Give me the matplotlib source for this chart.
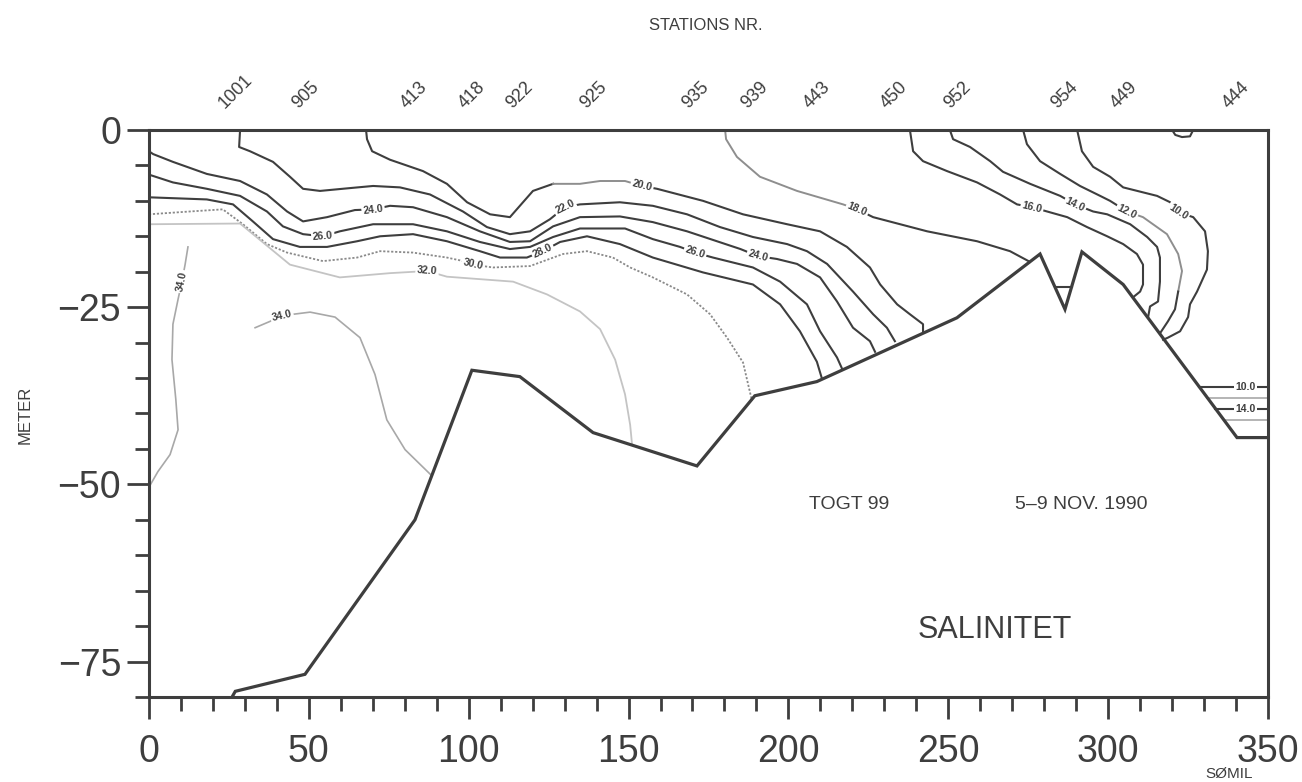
#!/usr/bin/env python3
"""Salinity section, cruise 99 (5-9 Nov 1990), drawn as isohalines over the sea floor."""

import numpy as np
import matplotlib
matplotlib.use("Agg")
import matplotlib.pyplot as plt
from matplotlib.ticker import MultipleLocator

plt.rcParams['font.family'] = ['Liberation Sans', 'DejaVu Sans']

INK = '#3e3e3e'

# stations along the section (distance in nautical miles)
stations = ['1001', '905', '413', '418', '922', '925', '935', '939',
            '443', '450', '952', '954', '449', '444']
station_dist = [27, 49, 83, 101, 116, 139, 171, 189.5, 209, 233, 253, 286.5, 305, 340]

# sea floor
bottom_x = [26, 27, 48.8, 83.2, 101.0, 116.0, 138.9, 171.4, 189.5, 208.9,
            252.7, 278.7, 286.5, 291.8, 304.7, 340.3, 350]
bottom_z = [-80, -79.2, -76.8, -55.0, -33.9, -34.8, -42.7, -47.4, -37.5, -35.5,
            -26.5, -17.5, -25.3, -17.2, -21.8, -43.4, -43.4]

# isohalines, distance (nm) and depth (m)
s10_x = [290.3, 291.8, 295.3, 300.6, 304.7, 315.3, 319.4, 321.9, 326.6, 330.3,
         331.2, 330.9, 327.8, 325.6, 325.0, 322.5, 318.7, 317.2]
s10_z = [0, -3.0, -5.2, -6.6, -8.1, -9.3, -10.2, -11.6, -12.3, -14.3,
         -17.1, -19.7, -22.8, -24.6, -26.4, -28.4, -29.3, -29.6]

s12_x = [273.4, 274.6, 278.7, 285.0, 291.2, 297.5, 300.6, 305.9, 310.9, 318.4,
         321.9, 323.1, 321.9, 320.9, 318.7, 316.2]
s12_z = [0, -2.0, -4.4, -6.2, -7.9, -9.3, -10.0, -11.5, -12.3, -14.7,
         -17.5, -19.9, -22.8, -25.3, -27.0, -28.7]

s14_x = [250.5, 251.5, 256.8, 263.1, 267.1, 275.6, 285.0, 289.7, 295.3, 299.7,
         306.9, 312.2, 315.3, 316.2, 316.2, 315.6, 313.1, 312.5]
s14_z = [0, -1.3, -2.4, -4.4, -5.9, -7.6, -9.3, -10.5, -11.5, -11.9,
         -13.3, -15.1, -16.5, -18.0, -21.4, -24.2, -24.9, -26.4]

s16_x = [238.0, 239.0, 242.1, 249.6, 259.0, 266.2, 271.5, 276.2, 280.9, 287.2,
         293.4, 299.7, 304.7, 309.0, 310.9, 310.9, 310.0, 307.8]
s16_z = [0, -3.0, -4.4, -5.8, -7.4, -9.1, -10.5, -10.9, -11.5, -12.3,
         -13.7, -15.0, -16.1, -17.5, -19.0, -21.8, -22.8, -23.6]

s18_x = [180.2, 180.5, 183.9, 191.1, 202.7, 217.1, 221.5, 226.5, 243.4, 259.0,
         269.3, 275.5]
s18_z = [0, -1.3, -3.8, -6.6, -8.6, -10.5, -11.2, -12.3, -14.3, -15.7,
         -17.1, -18.6]

s20_x = [67.9, 68.2, 69.8, 75.4, 85.7, 93.2, 99.5, 106.7, 112.9, 120.1,
         126.4, 134.8, 141.1, 148.9, 154.2, 158.9, 173.3, 185.8, 199.6, 209.9,
         218.3, 225.5, 228.7, 234.0, 238.0, 242.1, 242.1]
s20_z = [0, -1.3, -3.0, -4.2, -5.8, -7.6, -10.2, -11.9, -12.3, -8.6,
         -7.6, -7.6, -7.2, -7.2, -7.9, -8.3, -10.0, -11.9, -13.3, -14.3,
         -16.5, -19.4, -21.8, -24.6, -26.0, -27.4, -28.6]

s22_x = [28.5, 28.2, 31.6, 38.8, 44.1, 48.2, 53.5, 62.9, 70.1, 78.5,
         87.9, 98.2, 105.7, 112.9, 119.2, 125.4, 130.1, 134.8, 147.3, 157.6,
         168.3, 178.6, 188.9, 199.6, 205.8, 212.1, 220.2, 226.5, 230.8, 233.3]
s22_z = [0, -2.4, -3.0, -4.5, -6.6, -8.3, -8.6, -8.2, -7.9, -8.1,
         -9.1, -11.5, -13.7, -14.7, -14.3, -12.6, -10.9, -10.5, -10.2, -10.7,
         -11.9, -13.7, -15.1, -16.1, -17.1, -18.9, -22.8, -26.0, -27.9, -29.8]

s24_x = [0, 1.3, 7.5, 18.1, 28.5, 36.9, 43.2, 48.2, 55.7, 64.4,
         70.1, 75.4, 82.6, 93.2, 103.5, 112.9, 119.2, 126.4, 134.8, 147.3,
         157.6, 168.3, 185.0, 190.5, 196.4, 202.7, 209.9, 215.2, 220.2, 225.5, 227.1]
s24_z = [-3.0, -3.4, -4.5, -6.2, -7.2, -9.1, -11.5, -12.9, -12.3, -11.3,
         -11.2, -10.7, -10.9, -12.3, -14.3, -15.8, -15.7, -13.6, -12.3, -12.2,
         -13.0, -14.3, -16.8, -17.8, -18.2, -18.9, -20.8, -24.2, -27.9, -29.8, -31.3]

s26_x = [0, 7.5, 18.1, 28.5, 36.9, 41.9, 48.2, 54.4, 59.7, 70.1,
         82.6, 93.2, 103.5, 112.9, 119.2, 126.4, 134.8, 148.9, 157.6, 166.1,
         170.8, 176.4, 188.9, 197.4, 205.8, 209.9, 215.2, 216.8]
s26_z = [-6.3, -7.4, -8.3, -9.3, -11.5, -13.6, -14.7, -15.0, -14.3, -13.3,
         -13.3, -14.3, -15.8, -16.8, -16.5, -15.1, -13.9, -13.9, -15.4, -16.5,
         -17.3, -18.0, -19.4, -21.4, -24.6, -28.4, -32.1, -33.7]

s28_x = [0, 18.1, 26.3, 32.5, 38.8, 47.2, 55.7, 65.1, 72.3, 82.6,
         93.2, 103.5, 109.8, 118.2, 123.2, 128.6, 137.0, 147.3, 157.6, 173.3,
         188.9, 197.4, 203.6, 208.9, 210.5]
s28_z = [-9.5, -9.8, -10.5, -12.9, -15.4, -16.5, -16.5, -15.7, -15.0, -14.7,
         -15.7, -17.1, -18.0, -18.0, -17.1, -15.8, -15.0, -16.1, -18.0, -20.1,
         -21.8, -24.6, -28.4, -32.7, -35.1]

s30_x = [0, 12.8, 23.1, 29.4, 36.9, 43.2, 54.4, 65.1, 72.3, 82.6,
         93.2, 97.3, 101.3, 107.6, 119.2, 129.5, 137.0, 145.1, 150.5, 157.6,
         168.3, 175.5, 180.8, 185.8, 188.6]
s30_z = [-11.9, -11.5, -11.2, -13.3, -16.1, -17.3, -18.5, -18.0, -17.1, -17.3,
         -18.0, -18.4, -19.0, -19.4, -19.2, -17.5, -17.1, -18.0, -19.4, -20.8,
         -23.2, -26.0, -29.3, -32.8, -38.2]

s32_x = [0, 28.5, 36.3, 44.1, 59.7, 75.4, 87.0, 93.2, 113.9, 124.5,
         134.8, 141.1, 145.8, 148.9, 150.5, 151.1]
s32_z = [-13.3, -13.2, -16.1, -19.0, -20.8, -20.2, -19.9, -20.7, -21.4, -23.2,
         -25.6, -28.1, -32.4, -37.3, -41.6, -44.4]

s34a_x = [12.2, 11.3, 10.3, 9.1, 7.5, 7.2, 8.4, 9.1, 6.6, 2.8, 0]
s34a_z = [-16.5, -19.0, -21.4, -23.9, -27.4, -32.4, -38.0, -42.3, -45.8, -48.2, -50.4]

s34b_x = [33.2, 37.9, 41.6, 50.4, 58.2, 66.0, 70.7, 74.4, 80.1, 88.5]
s34b_z = [-27.9, -27.0, -26.2, -25.7, -26.4, -29.3, -34.5, -40.9, -45.1, -48.8]

# small closed patch at the surface near station 444
patch_x = [320.0, 321.0, 323.1, 325.6, 326.6]
patch_z = [0, -0.7, -1.0, -0.9, 0]

# short isohaline inside the deep hole at station 954
hole_x = [283.6, 288.8]
hole_z = [-22.2, -22.2]

# isohalines reaching the last station (444) from the slope
shelf_val = [10.0, 12.0, 14.0, 16.0]
shelf_z = [-36.2, -37.8, -39.3, -40.9]

# label positions on the isohalines (value, distance, depth)
label_val = [24.0, 24.0, 26.0, 26.0, 28.0, 30.0, 32.0, 22.0, 20.0, 18.0,
             16.0, 14.0, 12.0, 10.0, 34.0, 34.0]
label_x = [70.1, 190.5, 54.4, 170.8, 123.2, 101.3, 87.0, 130.1, 154.2, 221.5,
           276.2, 289.7, 305.9, 321.9, 10.3, 41.6]
label_z = [-11.2, -17.8, -15.0, -17.3, -17.1, -19.0, -19.9, -10.9, -7.9, -11.2,
           -10.9, -10.5, -11.5, -11.6, -21.4, -26.2]

DARK = dict(color=INK, lw=1.5, ls='-')
GREY = dict(color='#8e8e8e', lw=1.4, ls='-')
GREY_DOT = dict(color='#8a8a8a', lw=1.3, ls=(0, (1.2, 1.0)))
FAINT = dict(color='#c4c4c4', lw=1.3, ls='-')
LIGHT = dict(color='#a8a8a8', lw=1.2, ls='-')

lines = [
    (10.0, s10_x, s10_z, DARK),
    (12.0, s12_x, s12_z, DARK),
    (14.0, s14_x, s14_z, DARK),
    (16.0, s16_x, s16_z, DARK),
    (18.0, s18_x, s18_z, DARK),
    (20.0, s20_x, s20_z, DARK),
    (22.0, s22_x, s22_z, DARK),
    (24.0, s24_x, s24_z, DARK),
    (26.0, s26_x, s26_z, DARK),
    (28.0, s28_x, s28_z, DARK),
    (30.0, s30_x, s30_z, GREY_DOT),
    (32.0, s32_x, s32_z, FAINT),
    (34.0, s34a_x, s34a_z, LIGHT),
    (34.0, s34b_x, s34b_z, LIGHT),
]

# stretches of some isohalines that print lighter (vertex index ranges)
grey_spans = {18.0: (0, 6), 20.0: (10, 14), 12.0: (7, 12)}

fig = plt.figure(figsize=(13.02, 7.82), dpi=100)
ax = fig.add_axes([0.1144, 0.1087, 0.8595, 0.7251])
ax.set_xlim(0, 350)
ax.set_ylim(-80, 0)

for spine in ax.spines.values():
    spine.set_color(INK)
    spine.set_linewidth(2.2)

ax.xaxis.set_major_locator(MultipleLocator(50))
ax.xaxis.set_minor_locator(MultipleLocator(10))
ax.yaxis.set_major_locator(MultipleLocator(25))
ax.yaxis.set_minor_locator(MultipleLocator(5))
ax.tick_params(which='both', direction='out', color=INK, width=2.0,
               labelcolor=INK, top=False, right=False)
ax.tick_params(which='major', length=16, labelsize=27)
ax.tick_params(which='minor', length=10)
ax.tick_params(axis='x', which='major', pad=11)
ax.tick_params(axis='y', which='major', pad=4)

# isohalines
for val, xs, zs, style in lines:
    span = grey_spans.get(val)
    if span is None:
        ax.plot(xs, zs, zorder=2, **style)
        continue
    i0, i1 = span
    ax.plot(xs[:i0 + 1], zs[:i0 + 1], zorder=2, **style)
    ax.plot(xs[i0:i1 + 1], zs[i0:i1 + 1], zorder=2, **GREY)
    ax.plot(xs[i1:], zs[i1:], zorder=2, **style)

ax.plot(patch_x, patch_z, zorder=2, **DARK)
ax.plot(hole_x, hole_z, zorder=2, **DARK)

# isohalines at the last station run from the slope to the section end
bx = np.array(bottom_x)
bz = np.array(bottom_z)
slope = (bx >= 304.7) & (bx <= 340.3)
for val, z in zip(shelf_val, shelf_z):
    x0 = np.interp(z, bz[slope][::-1], bx[slope][::-1])
    style = DARK if val in (10.0, 14.0) else LIGHT
    ax.plot([x0, 350], [z, z], zorder=2, **style)
    if val in (10.0, 14.0):
        ax.text(343.0, z, f"{val:.1f}", fontsize=7.5, fontweight='bold',
                color=INK, ha='center', va='center', zorder=4,
                bbox=dict(boxstyle='square,pad=0.15', fc='white', ec='none'))

# sea floor
ax.plot(bottom_x, bottom_z, color=INK, lw=2.3, zorder=3, solid_joinstyle='miter')

# inline isohaline labels, rotated along the local line direction
fig.canvas.draw()
for val, lx, lz in zip(label_val, label_x, label_z):
    cands = [(xs, zs) for v, xs, zs, _ in lines if v == val]
    best = None
    for xs, zs in cands:
        pts = ax.transData.transform(np.column_stack([xs, zs]))
        p = ax.transData.transform((lx, lz))
        d = np.hypot(*(pts - p).T)
        i = int(np.argmin(d))
        if best is None or d[i] < best[0]:
            best = (d[i], pts, i)
    _, pts, i = best
    a = pts[max(i - 1, 0)]
    b = pts[min(i + 1, len(pts) - 1)]
    ang = np.degrees(np.arctan2(b[1] - a[1], b[0] - a[0]))
    if ang > 90:
        ang -= 180
    elif ang < -90:
        ang += 180
    ax.text(lx, lz, f"{val:.1f}", fontsize=7.5, fontweight='bold', color=INK,
            rotation=ang, rotation_mode='anchor', ha='center', va='center',
            zorder=4,
            bbox=dict(boxstyle='square,pad=0.15', fc='white', ec='none'))

# station numbers along the top
for name, d in zip(stations, station_dist):
    ax.annotate(name, xy=(d, 1), xycoords=('data', 'axes fraction'),
                xytext=(0, 13), textcoords='offset points', rotation=45,
                ha='center', va='bottom', fontsize=13, color=INK)

fig.text(0.542, 0.968, 'STATIONS NR.', ha='center', va='center',
         fontsize=12, color=INK)
fig.text(0.0192, 0.4693, 'METER', rotation=90, ha='center', va='center',
         fontsize=12, color=INK)
fig.text(0.944, 0.0105, 'SØMIL', ha='center', va='center',
         fontsize=11, color=INK)

ax.text(219.0, -52.9, 'TOGT 99', ha='center', va='center', fontsize=14, color=INK)
ax.text(291.5, -52.9, '5–9 NOV. 1990', ha='center', va='center', fontsize=14, color=INK)
ax.text(264.6, -70.6, 'SALINITET', ha='center', va='center', fontsize=22, color=INK)

fig.savefig('out.png', dpi=100, facecolor='white')
